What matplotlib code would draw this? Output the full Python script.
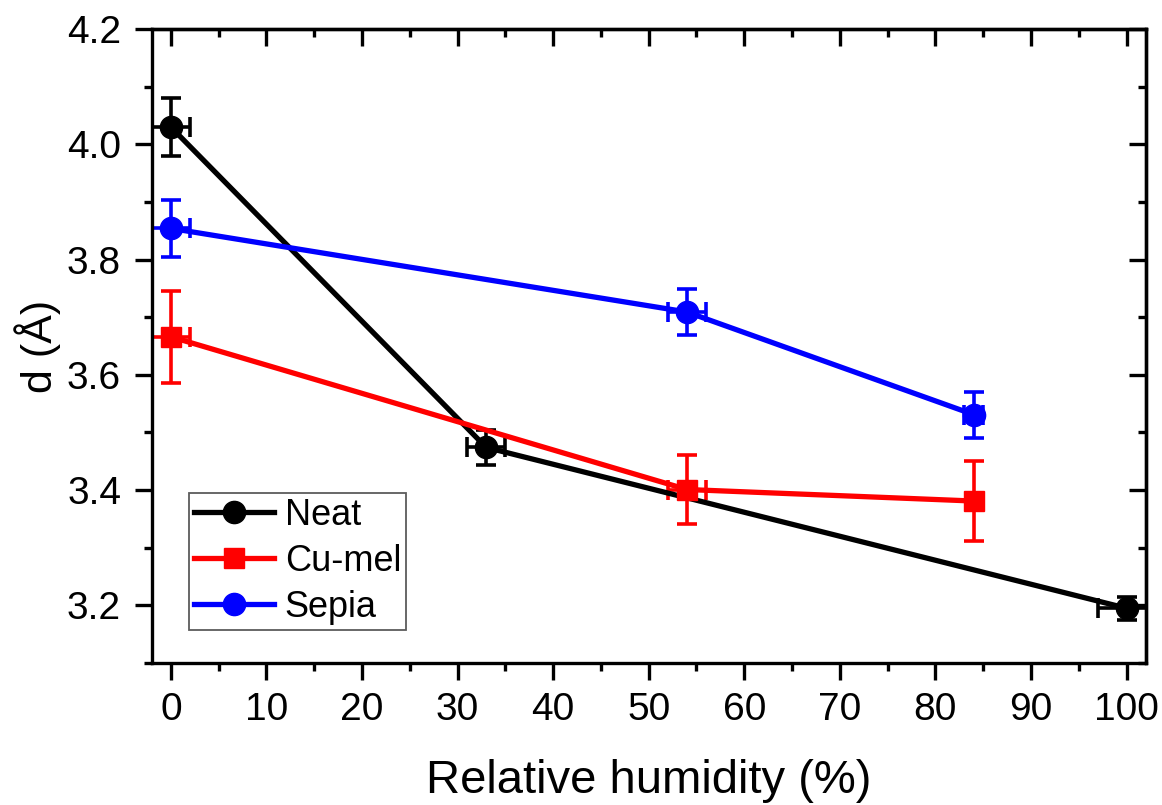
import matplotlib
matplotlib.use("Agg")
import matplotlib.pyplot as plt
from matplotlib.ticker import MultipleLocator

plt.rcParams['font.family'] = ['Liberation Sans', 'DejaVu Sans']

# Data
neat_x = [0, 33, 100]
neat_y = [4.03, 3.474, 3.195]
neat_yerr = [0.05, 0.03, 0.02]
neat_xerr = [2, 2, 3]

cumel_x = [0, 54, 84]
cumel_y = [3.666, 3.401, 3.381]
cumel_yerr = [0.08, 0.06, 0.07]
cumel_xerr = [2, 2, 0.3]

sepia_x = [0, 54, 84]
sepia_y = [3.854, 3.709, 3.531]
sepia_yerr = [0.05, 0.04, 0.04]
sepia_xerr = [2, 2, 1]

series = [
    ("Neat", neat_x, neat_y, neat_xerr, neat_yerr, "black", "o", 16),
    ("Cu-mel", cumel_x, cumel_y, cumel_xerr, cumel_yerr, "#ff0000", "s", 14),
    ("Sepia", sepia_x, sepia_y, sepia_xerr, sepia_yerr, "#0000ff", "o", 16),
]

fig = plt.figure(figsize=(11.62, 8.05), dpi=100)
ax = fig.add_axes([151.7/1162, 1 - 663/805, (1145.7 - 151.7)/1162, (663 - 29)/805])

handles = []
for name, x, y, xe, ye, c, m, ms in series:
    ax.errorbar(x, y, xerr=xe, yerr=ye, fmt='none', ecolor=c, elinewidth=2.6,
                capsize=7.5, capthick=2.6, zorder=2)
    h, = ax.plot(x, y, color=c, lw=3.8, marker=m, ms=ms, label=name, zorder=3)
    handles.append(h)

ax.set_xlim(-2, 102)
ax.set_ylim(3.1, 4.2)
ax.xaxis.set_major_locator(MultipleLocator(10))
ax.xaxis.set_minor_locator(MultipleLocator(5))
ax.yaxis.set_major_locator(MultipleLocator(0.2))
ax.yaxis.set_minor_locator(MultipleLocator(0.1))
ax.yaxis.set_major_formatter(matplotlib.ticker.FormatStrFormatter('%.1f'))

LW = 2.4
for s in ax.spines.values():
    s.set_linewidth(LW)

ax.tick_params(which='both', direction='out', width=LW, labelsize=28,
               top=False, right=False)
ax.tick_params(which='major', length=12)
ax.tick_params(which='minor', length=6)
ax.tick_params(axis='x', which='major', pad=9)
ax.tick_params(axis='y', which='major', pad=10)

# inward ticks on top and right
secx = ax.secondary_xaxis('top')
secx.xaxis.set_major_locator(MultipleLocator(10))
secx.xaxis.set_minor_locator(MultipleLocator(5))
secx.tick_params(which='both', direction='in', width=LW, labeltop=False)
secx.tick_params(which='major', length=12)
secx.tick_params(which='minor', length=6)
secx.spines['top'].set_linewidth(LW)

secy = ax.secondary_yaxis('right')
secy.yaxis.set_major_locator(MultipleLocator(0.2))
secy.yaxis.set_minor_locator(MultipleLocator(0.1))
secy.tick_params(which='both', direction='in', width=LW, labelright=False)
secy.tick_params(which='major', length=12)
secy.tick_params(which='minor', length=6)
secy.spines['right'].set_linewidth(LW)

ax.set_xlabel("Relative humidity (%)", fontsize=34, labelpad=22)
ax.set_ylabel("d (Å)", fontsize=31, labelpad=4)

leg = ax.legend(handles=handles, loc='lower left', bbox_to_anchor=(0.0375, 0.052),
                fontsize=26, frameon=True, fancybox=False, edgecolor='#333333',
                handlelength=2.2, handletextpad=0.3, borderpad=0.15,
                labelspacing=0.3, borderaxespad=0)
leg.get_frame().set_linewidth(1.3)

fig.savefig("out.png", dpi=100)
